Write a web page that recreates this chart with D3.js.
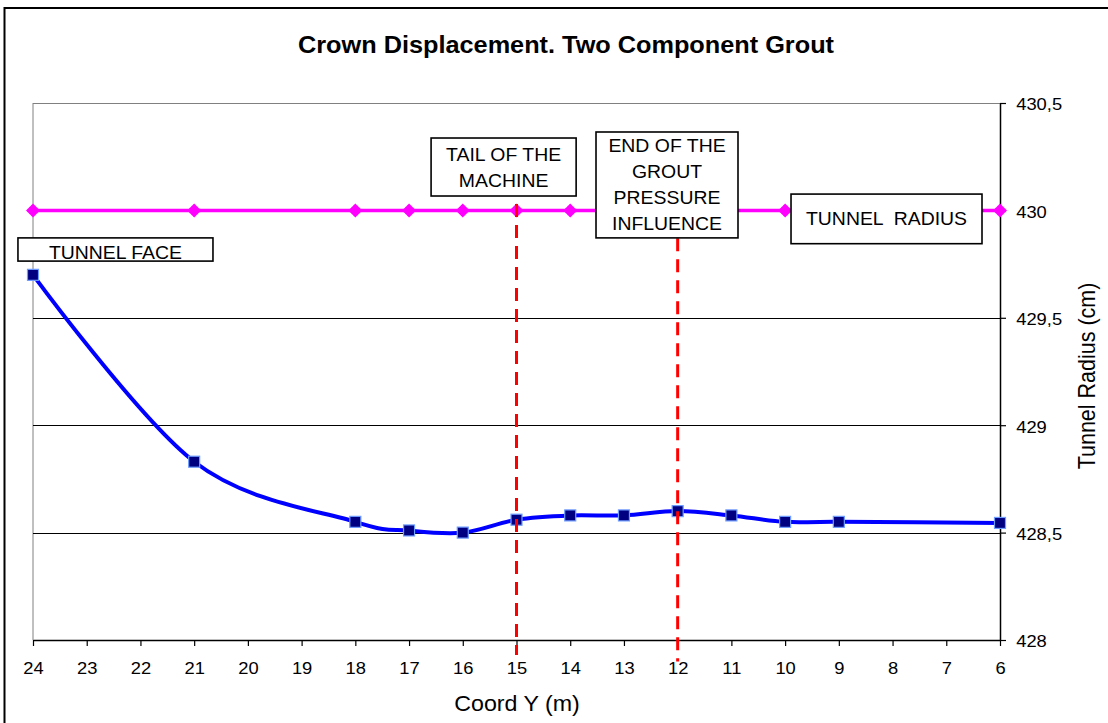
<!DOCTYPE html>
<html>
<head>
<meta charset="utf-8">
<script src="https://cdn.jsdelivr.net/npm/d3@7"></script>
<style>
  html, body { margin: 0; padding: 0; background: #fff; }
  svg { display: block; font-family: "Liberation Sans", Arial, sans-serif; }
</style>
</head>
<body>
<svg id="chart" width="1108" height="723"></svg>
<script>
// Position along the tunnel axis (m)
const coordY = [24, 21, 18, 17, 16, 15, 14, 13, 12, 11, 10, 9, 6];
// Crown radius measured after excavation (cm)
const crownRadius = [429.70, 428.83, 428.55, 428.51, 428.50, 428.56, 428.58, 428.58, 428.60, 428.58, 428.55, 428.55, 428.545];
// Nominal tunnel radius (cm)
const tunnelRadius = [430, 430, 430, 430, 430, 430, 430, 430, 430, 430, 430, 430, 430];

const xTicks = [24, 23, 22, 21, 20, 19, 18, 17, 16, 15, 14, 13, 12, 11, 10, 9, 8, 7, 6];
const yTicks = [428, 428.5, 429, 429.5, 430, 430.5];

// Reference sections marked with dashed verticals
const sectionMarks = [15, 12];

const titleText = "Crown Displacement. Two Component Grout";
const xTitle = "Coord Y (m)";
const yTitle = "Tunnel Radius (cm)";

// Callout boxes, placed in data units: [x0, x1] along Coord Y, [top, bottom] in radius
const callouts = [
  { lines: ["TUNNEL FACE"], xs: [24.28, 20.65], ys: [429.872, 429.764], sit: true },
  { lines: ["TAIL OF THE", "MACHINE"], xs: [16.59, 13.89], ys: [430.337, 430.067] },
  { lines: ["END OF THE", "GROUT", "PRESSURE", "INFLUENCE"], xs: [13.52, 10.877], ys: [430.365, 429.872] },
  { lines: ["TUNNEL  RADIUS"], xs: [9.89, 6.335], ys: [430.076, 429.845] }
];
// dashed verticals span (radius units)
const sectionSpans = [[430.03, 427.93], [429.87, 427.90]];

const svg = d3.select("#chart");
const m = { left: 33, right: 1000, top: 103, bottom: 640 };
const sx = 1.08; // horizontal text widening

const x = d3.scaleLinear().domain([24, 6]).range([m.left, m.right]);
const y = d3.scaleLinear().domain([428, 430.5]).range([m.bottom, m.top]);

// outer frame
svg.append("rect").attr("x", 4.5).attr("y", 8).attr("width", 1120).attr("height", 740)
  .attr("fill", "none").attr("stroke", "#000").attr("stroke-width", 2);

// title
svg.append("text")
  .attr("transform", `translate(566,53) scale(1.1,1)`)
  .attr("text-anchor", "middle").attr("font-size", 23).attr("font-weight", "bold")
  .text(titleText);

// plot area border (grey left & top)
svg.append("line").attr("x1", m.left).attr("x2", m.left).attr("y1", m.top).attr("y2", m.bottom)
  .attr("stroke", "#808080").attr("stroke-width", 1);
svg.append("line").attr("x1", m.left).attr("x2", m.right).attr("y1", m.top + 0.5).attr("y2", m.top + 0.5)
  .attr("stroke", "#808080").attr("stroke-width", 1.2);

// gridlines
svg.append("g").selectAll("line").data(yTicks.filter(v => v > 428 && v < 430.5)).join("line")
  .attr("x1", m.left).attr("x2", m.right)
  .attr("y1", d => Math.round(y(d)) + 0.5).attr("y2", d => Math.round(y(d)) + 0.5)
  .attr("stroke", "#000").attr("stroke-width", 1);

// axes
const gx = svg.append("g").attr("transform", `translate(0,${m.bottom})`)
  .call(d3.axisBottom(x).tickValues(xTicks).tickSize(6).tickPadding(16).tickSizeOuter(0).tickFormat(d3.format("d")));
gx.select(".domain").attr("stroke", "#000").attr("stroke-width", 1.5);
gx.selectAll(".tick line").attr("stroke", "#000").attr("stroke-width", 1.2);
gx.selectAll(".tick text").attr("font-size", 17).attr("font-family", "Liberation Sans, Arial, sans-serif")
  .attr("fill", "#000").attr("transform", `scale(${sx},1)`);

const gy = svg.append("g").attr("transform", `translate(${m.right},0)`)
  .call(d3.axisRight(y).tickValues(yTicks).tickSize(6).tickPadding(9).tickSizeOuter(0)
    .tickFormat(d => String(d).replace(".", ",")));
gy.select(".domain").attr("stroke", "#000").attr("stroke-width", 1.5);
gy.selectAll(".tick line").attr("stroke", "#000").attr("stroke-width", 1.2);
gy.selectAll(".tick text").attr("font-size", 17).attr("font-family", "Liberation Sans, Arial, sans-serif")
  .attr("fill", "#000").attr("dy", "0.4em").attr("transform", `scale(${sx},1)`);

// axis titles
svg.append("text")
  .attr("transform", `translate(517,711) scale(${sx},1)`)
  .attr("text-anchor", "middle").attr("font-size", 21.5).text(xTitle);
svg.append("text")
  .attr("transform", `translate(1095,376) scale(${sx},1) rotate(-90)`)
  .attr("text-anchor", "middle").attr("font-size", 21.5).text(yTitle);

// series
const nominal = coordY.map((c, i) => [c, tunnelRadius[i]]);
const crown = coordY.map((c, i) => [c, crownRadius[i]]);

svg.append("path").datum(nominal)
  .attr("d", d3.line().x(d => x(d[0])).y(d => y(d[1])))
  .attr("fill", "none").attr("stroke", "#ff00ff").attr("stroke-width", 3.5);
svg.append("g").selectAll("path").data(nominal).join("path")
  .attr("d", d => {
    const cx = x(d[0]), cy = y(d[1]);
    return `M${cx - 7},${cy}L${cx},${cy - 7}L${cx + 7},${cy}L${cx},${cy + 7}Z`;
  })
  .attr("fill", "#ff00ff");

svg.append("path").datum(crown)
  .attr("d", d3.line().x(d => x(d[0])).y(d => y(d[1])).curve(d3.curveCardinal.tension(0)))
  .attr("fill", "none").attr("stroke", "#0000ff").attr("stroke-width", 4);
svg.append("g").selectAll("rect").data(crown).join("rect")
  .attr("x", d => x(d[0]) - 5.5).attr("y", d => y(d[1]) - 5.5)
  .attr("width", 11).attr("height", 11)
  .attr("fill", "#000080").attr("stroke", "#6f9cff").attr("stroke-width", 1.2);

// dashed section markers
svg.append("g").selectAll("line").data(sectionMarks).join("line")
  .attr("x1", d => x(d)).attr("x2", d => x(d))
  .attr("y1", (d, i) => y(sectionSpans[i][0])).attr("y2", (d, i) => y(sectionSpans[i][1]))
  .attr("stroke", "#ff0000").attr("stroke-width", 3).attr("stroke-dasharray", "13,8");

// callout boxes
const cg = svg.append("g").selectAll("g").data(callouts).join("g");
cg.append("rect")
  .attr("x", d => x(d.xs[0])).attr("y", d => y(d.ys[0]))
  .attr("width", d => x(d.xs[1]) - x(d.xs[0])).attr("height", d => y(d.ys[1]) - y(d.ys[0]))
  .attr("fill", "#fff").attr("stroke", "#000").attr("stroke-width", 1.6);
cg.each(function(d) {
  const g = d3.select(this);
  const cx = (x(d.xs[0]) + x(d.xs[1])) / 2;
  const top = y(d.ys[0]), bot = y(d.ys[1]);
  const n = d.lines.length;
  const lh = 26;
  // vertical centre of the text block; single-line face label sits on the lower edge
  const mid = d.sit ? bot - 8.5 : (top + bot) / 2;
  d.lines.forEach((t, i) => {
    const base = mid + (i - (n - 1) / 2) * lh + 6.5;
    g.append("text")
      .attr("transform", `translate(${cx},${base}) scale(1.05,1)`)
      .attr("text-anchor", "middle").attr("font-size", 18.5)
      .attr("xml:space", "preserve").style("white-space", "pre")
      .text(t);
  });
});
</script>
</body>
</html>
